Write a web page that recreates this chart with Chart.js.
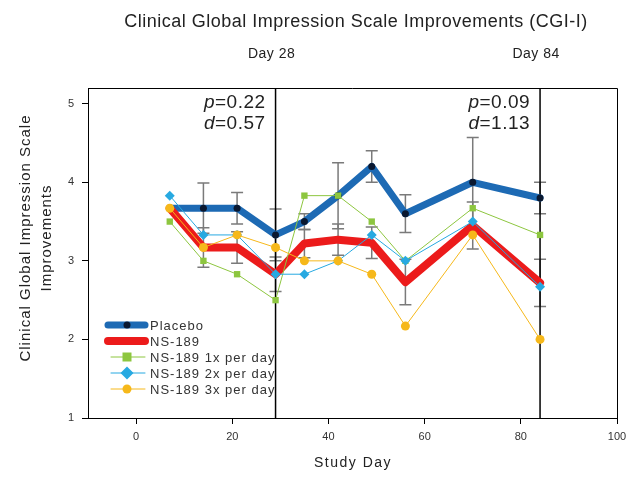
<!DOCTYPE html>
<html>
<head>
<meta charset="utf-8">
<script src="https://cdn.jsdelivr.net/npm/chart.js@4.4.0/dist/chart.umd.min.js"></script>
<style>
  html, body { margin: 0; padding: 0; background: #fff; }
</style>
</head>
<body>
<div style="width:633px;height:477px"><canvas id="chart" width="633" height="477"></canvas></div>
<script>
// study visits (day on the x axis)
const studyDays = [7, 14, 21, 29, 35, 42, 49, 56, 70, 84]

// mean CGI-I per group
const placebo = [3.67, 3.67, 3.67, 3.33, 3.5, 3.83, 4.2, 3.6, 4.0, 3.8]
const ns189 = [3.67, 3.17, 3.17, 2.83, 3.22, 3.27, 3.23, 2.73, 3.45, 2.72]
const ns189Once = [3.5, 3.0, 2.83, 2.5, 3.83, 3.83, 3.5, 3.0, 3.67, 3.33]
const ns189Twice = [3.83, 3.33, 3.33, 2.83, 2.83, 3.0, 3.33, 3.0, 3.5, 2.67]
const ns189Thrice = [3.67, 3.17, 3.33, 3.17, 3.0, 3.0, 2.83, 2.17, 3.33, 2.0]

// standard errors (placebo and pooled NS-189)
const placeboErr = [0, 0.32, 0.2, 0.33, 0.1, 0.42, 0.2, 0.24, 0.57, 0.2]
const ns189Err = [0, 0.25, 0.2, 0.22, 0.18, 0.2, 0.2, 0.29, 0.3, 0.3]

// visit markers and stats
const visitDays = [29, 84]
const visitLabels = ['Day 28', 'Day 84']
const pValues = ['0.22', '0.09']
const dValues = ['0.57', '1.13']

const FONT = '"Liberation Sans", Arial, sans-serif'

const errorBars = {
  id: 'errorBars',
  beforeDatasetsDraw(chart) {
    const { ctx, scales: { x, y } } = chart
    ctx.save()
    ctx.strokeStyle = '#7a7a7a'
    ctx.lineWidth = 1.5
    const draw = (vals, errs) => {
      vals.forEach((v, i) => {
        const e = errs[i]
        if (!e) return
        const px = x.getPixelForValue(studyDays[i])
        const top = y.getPixelForValue(v + e)
        const bot = y.getPixelForValue(v - e)
        ctx.beginPath()
        ctx.moveTo(px, top); ctx.lineTo(px, bot)
        ctx.moveTo(px - 6, top); ctx.lineTo(px + 6, top)
        ctx.moveTo(px - 6, bot); ctx.lineTo(px + 6, bot)
        ctx.stroke()
      })
    }
    draw(placebo, placeboErr)
    draw(ns189, ns189Err)

    // visit lines
    ctx.strokeStyle = '#000'
    ctx.lineWidth = 1.5
    visitDays.forEach(d => {
      const px = x.getPixelForValue(d)
      ctx.beginPath()
      ctx.moveTo(px, chart.chartArea.top)
      ctx.lineTo(px, chart.chartArea.bottom)
      ctx.stroke()
    })
    ctx.restore()
  }
}

const decorations = {
  id: 'decorations',
  afterDraw(chart) {
    const { ctx, chartArea: a, scales: { x } } = chart
    ctx.save()
    // top and right frame
    ctx.strokeStyle = '#000'
    ctx.lineWidth = 1
    ctx.beginPath()
    ctx.moveTo(a.left, a.top + 0.5); ctx.lineTo(a.right + 0.5, a.top + 0.5); ctx.lineTo(a.right + 0.5, a.bottom)
    ctx.stroke()

    ctx.fillStyle = '#222'
    ctx.textBaseline = 'middle'
    ctx.textAlign = 'center'
    ctx.letterSpacing = '0.5px'
    ctx.font = '18px ' + FONT
    ctx.fillText('Clinical Global Impression Scale Improvements (CGI-I)', 356, 22)

    visitDays.forEach((d, i) => {
      const px = x.getPixelForValue(d)
      ctx.textAlign = 'center'
      ctx.letterSpacing = '0.5px'
      ctx.font = '14px ' + FONT
      ctx.fillText(visitLabels[i], px - 4, 54)

      // p and d values
      const rx = px - 10
      ctx.textAlign = 'right'
      ctx.letterSpacing = '0.5px'
      ctx.font = '19px ' + FONT
      const rest1 = '=' + pValues[i]
      const rest2 = '=' + dValues[i]
      ctx.fillText(rest1, rx, 103)
      ctx.fillText(rest2, rx, 124)
      const w1 = ctx.measureText(rest1).width
      const w2 = ctx.measureText(rest2).width
      ctx.font = 'italic 19px ' + FONT
      ctx.fillText('p', rx - w1, 103)
      ctx.fillText('d', rx - w2, 124)
    })

    // axis titles
    ctx.textAlign = 'center'
    ctx.letterSpacing = '1.5px'
    ctx.font = '14px ' + FONT
    ctx.fillText('Study Day', 353, 463)
    ctx.save()
    ctx.translate(26, 238)
    ctx.rotate(-Math.PI / 2)
    ctx.letterSpacing = '1px'
    ctx.font = '15px ' + FONT
    ctx.fillText('Clinical Global Impression Scale', 0, 0)
    ctx.fillText('Improvements', 0, 21)
    ctx.restore()

    // legend
    ctx.letterSpacing = '1px'
    const items = chart.data.datasets.slice().sort((p, q) => p.legendIndex - q.legendIndex)
    items.forEach((ds, i) => {
      const cy = 325 + i * 16
      ctx.strokeStyle = ds.borderColor
      ctx.lineWidth = ds.borderWidth
      ctx.lineCap = 'round'
      ctx.beginPath()
      const x0 = ds.borderWidth > 2 ? 108 : 111
      ctx.moveTo(x0, cy); ctx.lineTo(145, cy)
      ctx.stroke()
      const mx = 127
      ctx.fillStyle = ds.pointBackgroundColor
      const r = ds.pointRadius
      if (r > 0) {
        ctx.beginPath()
        if (ds.pointStyle === 'rect') {
          ctx.rect(mx - r, cy - r, 2 * r, 2 * r)
        } else if (ds.pointStyle === 'rectRot') {
          ctx.moveTo(mx, cy - r * 1.3); ctx.lineTo(mx + r * 1.3, cy); ctx.lineTo(mx, cy + r * 1.3); ctx.lineTo(mx - r * 1.3, cy)
          ctx.closePath()
        } else {
          ctx.arc(mx, cy, r, 0, Math.PI * 2)
        }
        ctx.fill()
      }
      ctx.fillStyle = '#333'
      ctx.font = '13px ' + FONT
      ctx.textAlign = 'left'
      ctx.fillText(ds.label, 150, cy + 1)
    })
    ctx.restore()
  }
}

const toPoints = vals => vals.map((v, i) => ({ x: studyDays[i], y: v }))

new Chart('chart', {
  type: 'line',
  data: {
    datasets: [
      {
        label: 'Placebo', legendIndex: 0, order: 4,
        data: toPoints(placebo),
        borderColor: '#1d6ab4', borderWidth: 7,
        pointBackgroundColor: '#0a1830', pointBorderWidth: 0, pointRadius: 3.5, pointStyle: 'circle'
      },
      {
        label: 'NS-189', legendIndex: 1, order: 3,
        data: toPoints(ns189),
        borderColor: '#ec1b1b', borderWidth: 8,
        pointBackgroundColor: '#ec1b1b', pointBorderWidth: 0, pointRadius: 0, pointStyle: 'circle'
      },
      {
        label: 'NS-189 1x per day', legendIndex: 2, order: 2,
        data: toPoints(ns189Once),
        borderColor: '#8dc63f', borderWidth: 1,
        pointBackgroundColor: '#8dc63f', pointBorderWidth: 0, pointRadius: 4.5, pointStyle: 'rect'
      },
      {
        label: 'NS-189 2x per day', legendIndex: 3, order: 1,
        data: toPoints(ns189Twice),
        borderColor: '#27a9e1', borderWidth: 1,
        pointBackgroundColor: '#27a9e1', pointBorderWidth: 0, pointRadius: 5, pointStyle: 'rectRot'
      },
      {
        label: 'NS-189 3x per day', legendIndex: 4, order: 0,
        data: toPoints(ns189Thrice),
        borderColor: '#f6b81a', borderWidth: 1,
        pointBackgroundColor: '#f6b81a', pointBorderWidth: 0, pointRadius: 4.5, pointStyle: 'circle'
      }
    ]
  },
  options: {
    responsive: false,
    animation: false,
    layout: { padding: { top: 88, right: 16, left: 0, bottom: 0 } },
    plugins: { legend: { display: false }, tooltip: { enabled: false } },
    elements: { line: { tension: 0, borderJoinStyle: 'round', borderCapStyle: 'round' } },
    scales: {
      x: {
        type: 'linear', min: -10, max: 100,
        afterFit: s => { s.height = 59 },
        border: { display: true, color: '#000', width: 1 },
        grid: { drawOnChartArea: false, drawTicks: true, tickLength: 6, color: '#000' },
        ticks: { stepSize: 20, includeBounds: false, padding: 6, color: '#333', font: { family: FONT, size: 11 } }
      },
      y: {
        type: 'linear', min: 1, max: 5.2,
        afterFit: s => { s.width = 88 },
        border: { display: true, color: '#000', width: 1 },
        grid: { drawOnChartArea: false, drawTicks: true, tickLength: 6, color: '#000' },
        ticks: { stepSize: 1, includeBounds: false, padding: 8, color: '#333', font: { family: FONT, size: 11 } }
      }
    }
  },
  plugins: [errorBars, decorations]
})
</script>
</body>
</html>
